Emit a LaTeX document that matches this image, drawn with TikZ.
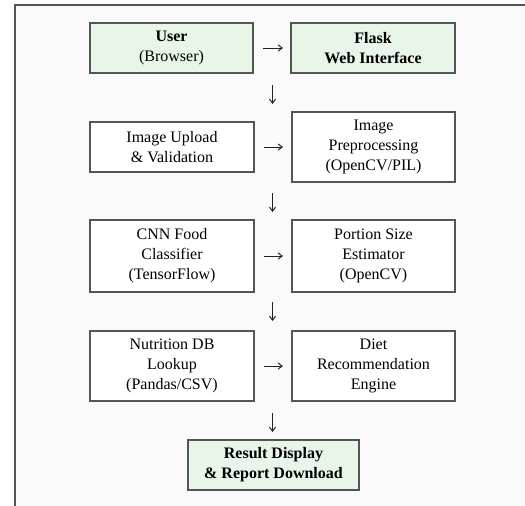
\documentclass[tikz,border=0pt]{standalone}
\usepackage{fontspec}
\setmainfont{Liberation Serif}
\newfontfamily\boxfont{Liberation Serif}
\usetikzlibrary{arrows.meta}
\definecolor{framec}{HTML}{555555}
\definecolor{bgc}{HTML}{FAFAFA}
\definecolor{greenc}{HTML}{E8F5E9}
\definecolor{edgec}{HTML}{555555}
\definecolor{txtc}{HTML}{000000}
\definecolor{arrc}{HTML}{222222}
\begin{document}
\begin{tikzpicture}[x=1pt,y=-1pt,
  box/.style={draw=edgec, line width=1.5pt, fill=white, align=center, text=txtc,
    inner sep=0pt, outer sep=0pt, minimum width=164pt, minimum height=50pt,
    font=\boxfont\fontsize{16}{20}\selectfont},
  gbox/.style={box, fill=greenc},
  conn/.style={draw=arrc, line width=1pt, -{Straight Barb[length=4pt,width=6pt]}}
]
\useasboundingbox (0,0) rectangle (525,506);
\fill[white] (0,0) rectangle (525,506);
\fill[bgc] (15,5) rectangle (525,506);
\draw[framec, line width=2pt] (15,506) -- (15,5) -- (525,5);

% row 1
\node[gbox, minimum width=163pt] (user) at (171.5,48) {\textbf{User}\\(Browser)};
\node[gbox] (flask) at (373,48) {\textbf{Flask}\\\textbf{Web Interface}};
% row 2
\node[box] (upload) at (172,147) {Image Upload\\\& Validation};
\node[box, minimum width=163pt, minimum height=70pt] (prep) at (373.5,147) {Image\\Preprocessing\\(OpenCV/PIL)};
% row 3
\node[box, minimum height=72pt] (cnn) at (172,256) {CNN Food\\Classifier\\(TensorFlow)};
\node[box, minimum width=163pt, minimum height=72pt] (portion) at (373.5,256) {Portion Size\\Estimator\\(OpenCV)};
% row 4
\node[box, minimum height=70pt] (nutri) at (172,366) {Nutrition DB\\Lookup\\(Pandas/CSV)};
\node[box, minimum width=163pt, minimum height=70pt] (diet) at (373.5,366) {Diet\\Recommendation\\Engine};
% row 5
\node[gbox, minimum width=171pt] (result) at (273.5,465) {\textbf{Result Display}\\\textbf{\& Report Download}};

% horizontal arrows
\draw[conn, shorten <=10pt, shorten >=8pt] (user.east) -- (flask.west);
\draw[conn, shorten <=10pt, shorten >=9pt] (upload.east) -- (prep.west);
\draw[conn, shorten <=10pt, shorten >=9pt] (cnn.east) -- (portion.west);
\draw[conn, shorten <=10pt, shorten >=9pt] (nutri.east) -- (diet.west);

% vertical arrows
\coordinate (d1a) at (272.5,85);
\coordinate (d1b) at (272.5,104);
\coordinate (d2a) at (272.5,193);
\coordinate (d2b) at (272.5,212);
\coordinate (d3a) at (272.5,302);
\coordinate (d3b) at (272.5,321);
\coordinate (d4a) at (272.5,413);
\coordinate (d4b) at (272.5,432);
\draw[conn] (d1a) -- (d1b);
\draw[conn] (d2a) -- (d2b);
\draw[conn] (d3a) -- (d3b);
\draw[conn] (d4a) -- (d4b);
\end{tikzpicture}
\end{document}
